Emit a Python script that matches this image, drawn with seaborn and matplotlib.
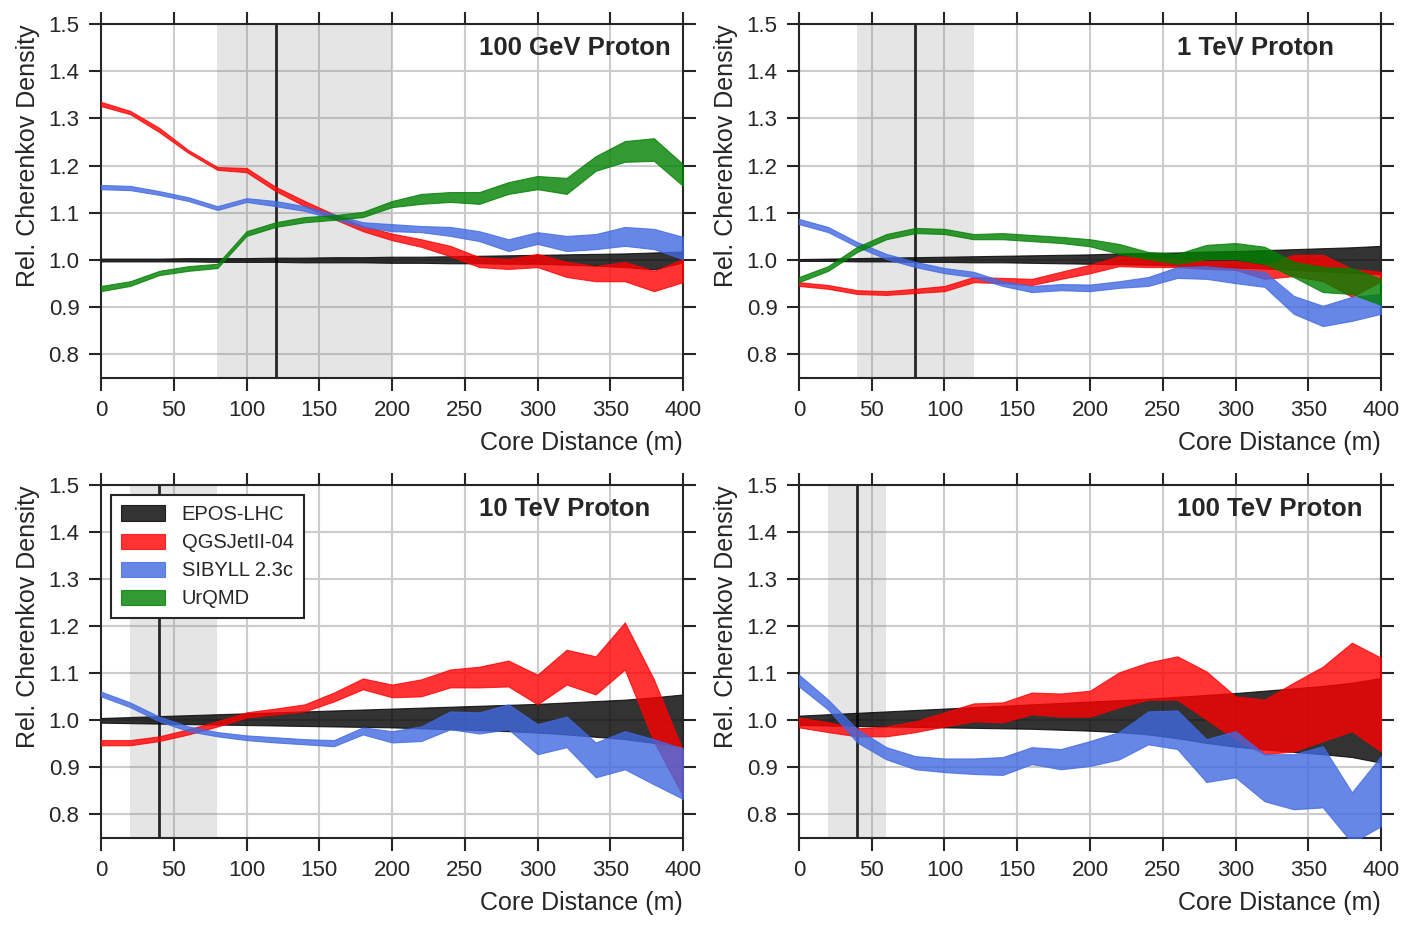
import numpy as np
import pandas as pd
import matplotlib
matplotlib.use("Agg")
import matplotlib.pyplot as plt
import seaborn as sns

# ---------------- data ----------------
distance = [0, 20, 40, 60, 80, 100, 120, 140, 160, 180, 200,
            220, 240, 260, 280, 300, 320, 340, 360, 380, 400]

models = ["EPOS-LHC", "QGSJetII-04", "SIBYLL 2.3c", "UrQMD"]
model_colors = ["black", "red", "royalblue", "green"]

titles = ["100 GeV Proton", "1 TeV Proton", "10 TeV Proton", "100 TeV Proton"]
spans = [(80, 200), (40, 120), (20, 80), (20, 60)]
vlines = [120, 80, 40, 40]

x_ticks = [0, 50, 100, 150, 200, 250, 300, 350, 400]
y_ticks = [0.8, 0.9, 1.0, 1.1, 1.2, 1.3, 1.4, 1.5]

# ---- 100 GeV ----
gev100_epos_lo = [0.997, 0.997, 0.997, 0.997, 0.996, 0.996, 0.996, 0.995, 0.995, 0.995, 0.994,
                  0.994, 0.993, 0.993, 0.992, 0.992, 0.990, 0.988, 0.985, 0.980, 0.995]
gev100_epos_hi = [1.003, 1.003, 1.003, 1.004, 1.004, 1.004, 1.005, 1.005, 1.006, 1.006, 1.007,
                  1.007, 1.008, 1.009, 1.010, 1.011, 1.012, 1.013, 1.014, 1.016, 1.018]
gev100_qgs_lo = [1.326, 1.309, 1.271, 1.227, 1.191, 1.186, 1.146, 1.114, 1.087, 1.061, 1.042,
                 1.028, 1.008, 0.985, 0.981, 0.985, 0.964, 0.955, 0.955, 0.934, 0.953]
gev100_qgs_hi = [1.335, 1.316, 1.280, 1.233, 1.197, 1.195, 1.155, 1.125, 1.097, 1.072, 1.056,
                 1.044, 1.030, 1.006, 1.002, 1.013, 0.996, 0.987, 0.996, 0.977, 1.002]
gev100_sib_lo = [1.150, 1.148, 1.138, 1.125, 1.106, 1.123, 1.114, 1.104, 1.087, 1.070, 1.061,
                 1.059, 1.051, 1.040, 1.019, 1.034, 1.019, 1.023, 1.030, 1.023, 1.002]
gev100_sib_hi = [1.159, 1.157, 1.146, 1.133, 1.114, 1.131, 1.125, 1.114, 1.097, 1.080, 1.076,
                 1.072, 1.070, 1.061, 1.044, 1.059, 1.051, 1.055, 1.070, 1.066, 1.049]
gev100_urq_lo = [0.934, 0.945, 0.968, 0.977, 0.983, 1.051, 1.070, 1.080, 1.085, 1.091, 1.112,
                 1.119, 1.123, 1.119, 1.140, 1.150, 1.140, 1.189, 1.208, 1.210, 1.157]
gev100_urq_hi = [0.945, 0.955, 0.977, 0.987, 0.992, 1.061, 1.080, 1.091, 1.095, 1.102, 1.125,
                 1.140, 1.144, 1.144, 1.165, 1.178, 1.174, 1.220, 1.252, 1.258, 1.203]

# ---- 1 TeV ----
tev1_epos_lo = [0.998, 0.998, 0.997, 0.997, 0.996, 0.996, 0.995, 0.995, 0.994, 0.993, 0.992,
                0.991, 0.990, 0.988, 0.986, 0.984, 0.982, 0.979, 0.976, 0.973, 0.970]
tev1_epos_hi = [1.002, 1.003, 1.004, 1.005, 1.006, 1.007, 1.008, 1.009, 1.010, 1.011, 1.012,
                1.014, 1.015, 1.016, 1.018, 1.019, 1.021, 1.023, 1.025, 1.027, 1.030]
tev1_qgs_lo = [0.945, 0.939, 0.928, 0.926, 0.930, 0.934, 0.953, 0.951, 0.947, 0.960, 0.972,
               0.987, 0.985, 0.985, 0.981, 0.979, 0.960, 0.966, 0.955, 0.922, 0.955]
tev1_qgs_hi = [0.953, 0.947, 0.936, 0.934, 0.939, 0.945, 0.964, 0.962, 0.960, 0.975, 0.990,
               1.008, 1.004, 1.002, 0.998, 0.998, 0.989, 1.011, 1.011, 0.981, 0.975]
tev1_sib_lo = [1.076, 1.059, 1.028, 1.002, 0.985, 0.972, 0.964, 0.945, 0.932, 0.936, 0.934,
               0.941, 0.945, 0.962, 0.960, 0.951, 0.943, 0.886, 0.860, 0.871, 0.886]
tev1_sib_hi = [1.087, 1.070, 1.038, 1.013, 0.996, 0.983, 0.975, 0.955, 0.945, 0.949, 0.948,
               0.955, 0.964, 0.985, 0.987, 0.981, 0.975, 0.924, 0.903, 0.922, 0.928]
tev1_urq_lo = [0.953, 0.977, 1.017, 1.044, 1.057, 1.055, 1.044, 1.044, 1.040, 1.036, 1.029,
               1.013, 1.002, 0.992, 1.002, 1.002, 0.992, 0.964, 0.932, 0.928, 0.905]
tev1_urq_hi = [0.964, 0.987, 1.028, 1.055, 1.068, 1.066, 1.055, 1.057, 1.053, 1.049, 1.044,
               1.034, 1.017, 1.013, 1.032, 1.036, 1.028, 0.996, 0.985, 0.983, 0.960]

# ---- 10 TeV ----
tev10_epos_lo = [0.995, 0.994, 0.993, 0.992, 0.991, 0.990, 0.989, 0.988, 0.987, 0.986, 0.985,
                 0.983, 0.981, 0.979, 0.977, 0.974, 0.970, 0.965, 0.960, 0.952, 0.945]
tev10_epos_hi = [1.005, 1.007, 1.009, 1.011, 1.013, 1.015, 1.017, 1.019, 1.021, 1.023, 1.025,
                 1.027, 1.029, 1.031, 1.033, 1.035, 1.038, 1.041, 1.044, 1.049, 1.055]
tev10_qgs_lo = [0.947, 0.947, 0.956, 0.970, 0.987, 1.006, 1.013, 1.019, 1.040, 1.066, 1.049,
                1.051, 1.070, 1.070, 1.072, 1.034, 1.076, 1.055, 1.108, 0.955, 0.840]
tev10_qgs_hi = [0.958, 0.958, 0.966, 0.981, 0.998, 1.017, 1.025, 1.034, 1.059, 1.089, 1.076,
                1.087, 1.108, 1.114, 1.127, 1.097, 1.150, 1.136, 1.208, 1.087, 0.935]
tev10_sib_lo = [1.051, 1.028, 0.998, 0.977, 0.966, 0.958, 0.953, 0.949, 0.945, 0.970, 0.953,
                0.956, 0.981, 0.972, 0.981, 0.928, 0.943, 0.879, 0.896, 0.864, 0.833]
tev10_sib_hi = [1.061, 1.038, 1.008, 0.987, 0.975, 0.968, 0.964, 0.960, 0.958, 0.985, 0.977,
                0.987, 1.019, 1.017, 1.034, 0.992, 1.008, 0.953, 0.977, 0.960, 0.940]

# ---- 100 TeV ----
tev100_epos_lo = [0.990, 0.989, 0.988, 0.987, 0.986, 0.985, 0.984, 0.983, 0.982, 0.980, 0.978,
                  0.975, 0.970, 0.962, 0.952, 0.944, 0.938, 0.933, 0.928, 0.922, 0.910]
tev100_epos_hi = [1.010, 1.013, 1.016, 1.019, 1.022, 1.025, 1.028, 1.031, 1.034, 1.037, 1.040,
                  1.043, 1.046, 1.050, 1.054, 1.058, 1.063, 1.068, 1.073, 1.080, 1.090]
tev100_qgs_lo = [0.985, 0.975, 0.966, 0.966, 0.975, 0.987, 0.998, 0.996, 1.013, 1.008, 1.008,
                 1.028, 1.044, 1.044, 1.002, 0.960, 0.928, 0.934, 0.956, 0.977, 0.934]
tev100_qgs_hi = [1.006, 0.996, 0.983, 0.987, 0.998, 1.017, 1.036, 1.038, 1.059, 1.057, 1.063,
                 1.102, 1.123, 1.136, 1.104, 1.051, 1.044, 1.080, 1.114, 1.165, 1.133]
tev100_sib_lo = [1.072, 1.023, 0.953, 0.917, 0.896, 0.890, 0.886, 0.884, 0.907, 0.896, 0.903,
                 0.917, 0.949, 0.939, 0.869, 0.879, 0.828, 0.811, 0.815, 0.740, 0.775]
tev100_sib_hi = [1.097, 1.044, 0.981, 0.943, 0.924, 0.919, 0.919, 0.922, 0.943, 0.939, 0.956,
                 0.975, 1.019, 1.021, 0.960, 0.977, 0.928, 0.928, 0.945, 0.847, 0.924]

panels = [
    {"EPOS-LHC": (gev100_epos_lo, gev100_epos_hi), "QGSJetII-04": (gev100_qgs_lo, gev100_qgs_hi),
     "SIBYLL 2.3c": (gev100_sib_lo, gev100_sib_hi), "UrQMD": (gev100_urq_lo, gev100_urq_hi)},
    {"EPOS-LHC": (tev1_epos_lo, tev1_epos_hi), "QGSJetII-04": (tev1_qgs_lo, tev1_qgs_hi),
     "SIBYLL 2.3c": (tev1_sib_lo, tev1_sib_hi), "UrQMD": (tev1_urq_lo, tev1_urq_hi)},
    {"EPOS-LHC": (tev10_epos_lo, tev10_epos_hi), "QGSJetII-04": (tev10_qgs_lo, tev10_qgs_hi),
     "SIBYLL 2.3c": (tev10_sib_lo, tev10_sib_hi)},
    {"EPOS-LHC": (tev100_epos_lo, tev100_epos_hi), "QGSJetII-04": (tev100_qgs_lo, tev100_qgs_hi),
     "SIBYLL 2.3c": (tev100_sib_lo, tev100_sib_hi)},
]

# ---------------- style ----------------
sns.set_theme(style="ticks", rc={
    "axes.edgecolor": "#262626",
    "axes.linewidth": 1.5,
    "xtick.color": "#262626",
    "ytick.color": "#262626",
    "xtick.direction": "out",
    "ytick.direction": "out",
    "xtick.major.size": 9,
    "ytick.major.size": 9,
    "xtick.major.width": 1.5,
    "ytick.major.width": 1.5,
    "xtick.labelsize": 16,
    "ytick.labelsize": 16,
    "axes.labelsize": 18,
    "axes.labelcolor": "#262626",
    "grid.color": "#cccccc",
    "grid.linewidth": 1.5,
})
plt.rcParams["font.family"] = ["Liberation Sans", "DejaVu Sans"]

W, H = 1415, 930
fig = plt.figure(figsize=(W / 100, H / 100), dpi=100)
boxes = [(101, 24, 683, 378), (799, 24, 1381, 378),
         (101, 485, 683, 838), (799, 485, 1381, 838)]

legend_handles = None
axes = []
for i, (l, t, r, b) in enumerate(boxes):
    ax = fig.add_axes([l / W, 1 - b / H, (r - l) / W, (b - t) / H])
    axes.append(ax)
    ax.set_axisbelow(True)
    ax.grid(True)
    ax.axvspan(*spans[i], color="gray", alpha=0.2, lw=0, zorder=1)
    ax.axvline(vlines[i], color="#262626", lw=2, zorder=1.5)
    handles = []
    for k, (m, c) in enumerate(zip(models, model_colors)):
        if m in panels[i]:
            lo, hi = panels[i][m]
            df = pd.DataFrame({"d": distance, "lo": lo, "hi": hi})
            h = ax.fill_between(df["d"], df["lo"], df["hi"], facecolor=c, edgecolor=c,
                                alpha=0.8, lw=0.8, zorder=2 + k, label=m)
            handles.append(h)
    if i == 0:
        legend_handles = handles
    ax.set_xlim(0, 400)
    ax.set_ylim(0.75, 1.5)
    ax.set_xticks(x_ticks)
    ax.set_yticks(y_ticks)
    ax.set_yticklabels([f"{v:.1f}" for v in y_ticks])
    ax.tick_params(top=True, right=True, pad=6.5)
    for s in ax.spines.values():
        s.set_visible(True)
    ax.set_xlabel("Core Distance (m)", loc="right", labelpad=7.5)
    ax.set_ylabel("Rel. Cherenkov Density", loc="top", labelpad=6)
    ax.text(260, 1.45, titles[i], fontsize=18.5, fontweight="bold",
            ha="left", va="center", color="#262626", zorder=10)

leg = axes[2].legend(handles=legend_handles, labels=models, loc="upper left",
                     fontsize=14.5, frameon=True, fancybox=False, framealpha=1,
                     edgecolor="#262626", handlelength=2.2, handleheight=0.8,
                     labelspacing=0.45, borderpad=0.5)
leg.get_frame().set_linewidth(1.5)
leg.set_zorder(20)

fig.savefig("out.png", dpi=100)
